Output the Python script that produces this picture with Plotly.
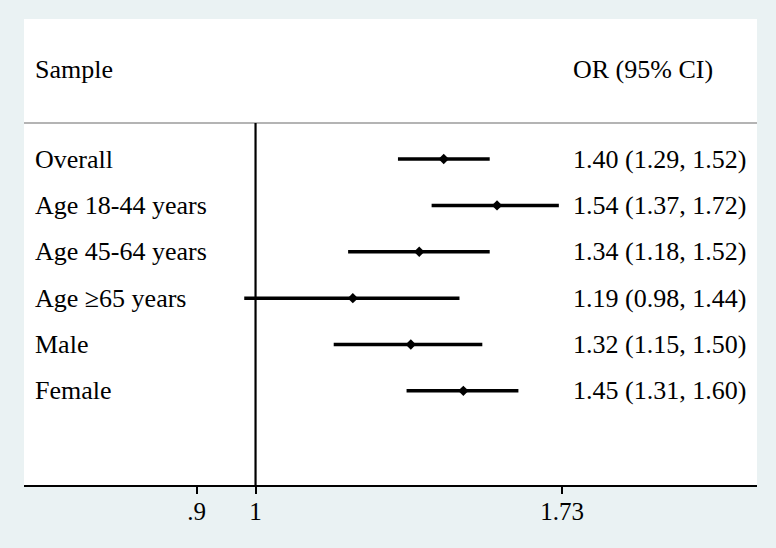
import plotly.graph_objects as go

samples = ["Overall", "Age 18-44 years", "Age 45-64 years", "Age \u226565 years", "Male", "Female"]
or_vals = [1.40, 1.54, 1.34, 1.19, 1.32, 1.45]
ci_low = [1.29, 1.37, 1.18, 0.98, 1.15, 1.31]
ci_high = [1.52, 1.72, 1.52, 1.44, 1.50, 1.60]
tick_vals = [0.9, 1, 1.73]
tick_text = [".9", "1", "1.73"]
header_left = "Sample"
header_right = "OR (95% CI)"

FONT = "Liberation Serif"
BG = "#eaf2f3"

fig = go.Figure()
rows = list(range(len(samples)))

for i, lo, hi in zip(rows, ci_low, ci_high):
    fig.add_trace(go.Scatter(x=[lo, hi], y=[i, i], mode="lines",
                             line=dict(color="black", width=3.5),
                             showlegend=False, hoverinfo="skip"))
fig.add_trace(go.Scatter(x=or_vals, y=rows, mode="markers",
                         marker=dict(symbol="diamond", size=8, color="black"),
                         showlegend=False))

header_y = -1.94
sep_y = -0.776

anns = []
for i, (s, o, lo, hi) in enumerate(zip(samples, or_vals, ci_low, ci_high)):
    anns.append(dict(x=0.0123, xref="paper", y=i, yref="y", text=s, showarrow=False,
                     xanchor="left", yanchor="middle", font=dict(family=FONT, size=26, color="black")))
    anns.append(dict(x=0.746, xref="paper", y=i, yref="y",
                     text=f"{o:.2f} ({lo:.2f}, {hi:.2f})", showarrow=False,
                     xanchor="left", yanchor="middle", font=dict(family=FONT, size=26, color="black")))
anns.append(dict(x=0.0123, xref="paper", y=header_y, yref="y", text=header_left, showarrow=False,
                 xanchor="left", yanchor="middle", font=dict(family=FONT, size=26, color="black")))
anns.append(dict(x=0.746, xref="paper", y=header_y, yref="y", text=header_right, showarrow=False,
                 xanchor="left", yanchor="middle", font=dict(family=FONT, size=26, color="black")))

shapes = [
    dict(type="line", xref="paper", x0=0, x1=1, yref="y", y0=sep_y, y1=sep_y,
         line=dict(color="#b4b4b4", width=2)),
    dict(type="line", xref="x", x0=1, x1=1, yref="y", y0=sep_y, y1=7.03,
         line=dict(color="black", width=2.2)),
]

fig.update_layout(
    width=776, height=548,
    margin=dict(l=24, r=19, t=19, b=63),
    paper_bgcolor=BG, plot_bgcolor="white",
    annotations=anns, shapes=shapes,
    showlegend=False,
    xaxis=dict(type="log", range=[-0.1798, 0.3894], tickvals=tick_vals, ticktext=tick_text,
               ticks="outside", ticklen=7, tickwidth=2, tickcolor="black",
               showline=True, linewidth=2, linecolor="black", showgrid=False, zeroline=False,
               ticklabelstandoff=-4,
               tickfont=dict(family=FONT, size=25, color="black")),
    yaxis=dict(range=[7.03, -3.02], showticklabels=False, showgrid=False, zeroline=False,
               showline=False, ticks=""),
)

fig.write_html("out.html", config={"displayModeBar": False},
               post_script="document.body.style.margin='0';")
